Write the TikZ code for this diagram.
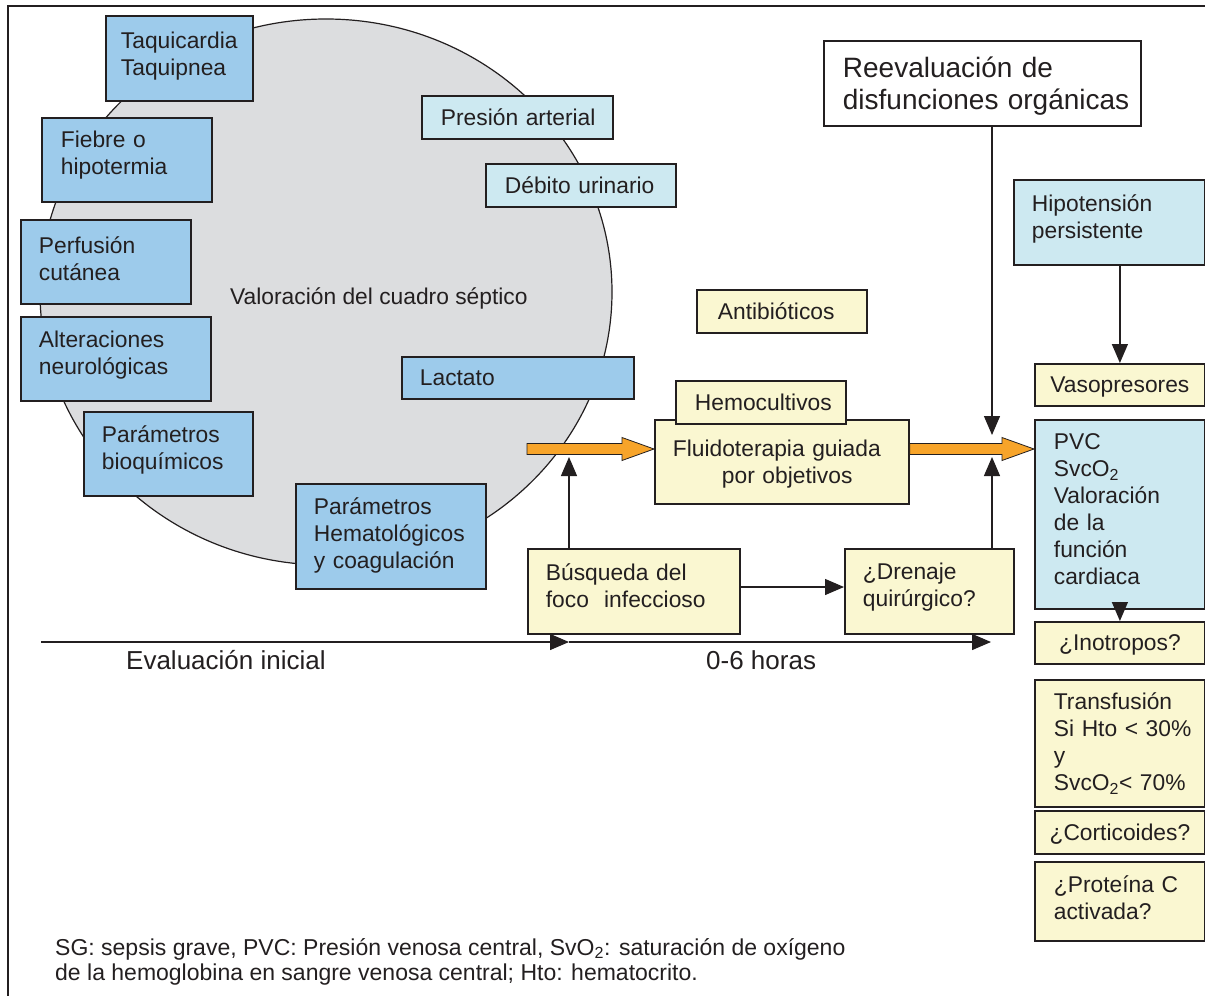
\documentclass[tikz,border=0pt]{standalone}
\usepackage{fontspec}
\setmainfont{Liberation Sans}
\usetikzlibrary{arrows.meta,calc}
\definecolor{bblue}{HTML}{9DCBEB}
\definecolor{lblue}{HTML}{CDE9F1}
\definecolor{yel}{HTML}{FAF7D1}
\definecolor{cgrey}{HTML}{DCDDDF}
\definecolor{orng}{HTML}{F7A42A}
\definecolor{ink}{HTML}{231F20}
\hyphenpenalty=10000
\exhyphenpenalty=10000
\hbadness=10000
\vbadness=10000
\hfuzz=200pt
\vfuzz=200pt
\newcommand{\mybumpdown}[1]{\endgraf\vspace{#1pt}}
\newcommand{\fatarrow}[2]{%
  \path[draw=ink, line width=0.8pt, fill=orng] let \p1=(#1), \p2=(#2) in
  (\x1,\y1+5.5pt) -- (\x2-32pt,\y1+5.5pt) -- (\x2-32pt,\y1+11.5pt) -- (\x2,\y1)
  -- (\x2-32pt,\y1-11.5pt) -- (\x2-32pt,\y1-5.5pt) -- (\x1,\y1-5.5pt) -- cycle;}
\begin{document}
\begin{tikzpicture}[x=1pt,y=-1pt,
  every node/.style={font=\fontsize{22.8}{27}\selectfont, text=ink, inner sep=0pt},
  bx/.style n args={4}{draw=ink, line width=1.8pt, anchor=north west, align=left,
     minimum width=#1pt, minimum height=#2pt, inner xsep=#3pt, inner ysep=0pt, text width=#4pt},
  ml/.style={execute at end node={\mybumpdown{#1}}},
  arr/.style={draw=ink, line width=1.3pt, -{Triangle[length=19pt,width=16pt]}},
  lbl/.style={font=\fontsize{26}{30}\selectfont, anchor=base west}
]
\useasboundingbox (0,0) rectangle (1205,996);
% frame
\draw[ink, line width=2pt] (8,996) -- (8,6) -- (1205,6);
% big ellipse
\draw[fill=cgrey, draw=ink, line width=1.2pt] (326,292) ellipse [x radius=286, y radius=273];
\node[anchor=base west] (val) at (230,304) {Valoración del cuadro séptico};
% blue boxes
\node[bx={147}{85}{15}{117}, ml=4, fill=bblue] (taq) at (105,15) {Taquicardia\\Taquipnea};
\node[bx={170}{84}{19}{132}, ml=10, fill=bblue] (fie) at (41,117) {Fiebre~o\\hipotermia};
\node[bx={170}{84}{18}{134}, ml=6, fill=bblue] (perf) at (20,219) {Perfusión\\cutánea};
\node[bx={190}{84}{18}{154}, ml=8, fill=bblue] (alt) at (20,316) {Alteraciones\\neurológicas};
\node[bx={169}{84}{18}{133}, ml=8, fill=bblue] (bioq) at (83,411) {Parámetros\\bioquímicos};
\node[bx={190}{105}{18}{154}, ml=2, fill=bblue] (hem) at (295,483) {Parámetros\\Hematológicos\\y~coagulación};
\node[bx={232}{42}{18}{196}, fill=bblue] (lac) at (401,356) {Lactato};
\node[bx={191}{43}{19}{153}, fill=lblue] (pres) at (421,95) {Presión~arterial};
\node[bx={190}{43}{19}{152}, fill=lblue] (deb) at (485,163) {Débito~urinario};
% yellow boxes
\node[bx={170}{43}{21}{128}, fill=yel] (anti) at (696,289) {Antibióticos};
\node[bx={254}{84}{18}{218}, ml=-4, fill=yel] (fluid) at (654,419) {Fluidoterapia~guiada\\\hspace*{49pt}por~objetivos};
\node[bx={170}{43}{19}{132}, fill=yel] (hemo) at (675,380) {Hemocultivos};
\node[bx={212}{85}{18}{176}, ml=12, fill=yel] (busq) at (527,548) {Búsqueda~del\\foco\ \ infeccioso};
\node[bx={169}{85}{18}{133}, ml=8, fill=yel] (dren) at (844,548) {¿Drenaje\\quirúrgico?};
% right column
\node[bx={317}{85}{19}{279}, ml=-5, fill=white, font=\fontsize{28}{32}\selectfont] (reev) at (823,40) {Reevaluación~de\\disfunciones~orgánicas};
\node[bx={191}{85}{18}{155}, ml=6, fill=lblue] (hip) at (1013,179) {Hipotensión\\persistente};
\node[bx={170}{42}{8}{154}, ml=-4, fill=yel, align=center] (vaso) at (1034,363) {Vasopresores};
\node[bx={170}{189}{19}{132}, ml=10, fill=lblue] (pvc) at (1034,419) {PVC\\SvcO\textsubscript{2}\\Valoración\\de~la\\función\\cardiaca};
\node[bx={170}{42}{8}{154}, ml=-6, fill=yel, align=center] (ino) at (1034,621) {¿Inotropos?};
\node[bx={170}{127}{19}{132}, fill=yel] (tra) at (1034,679) {Transfusión\\Si~Hto~<~30\%\\y\\SvcO\textsubscript{2}<~70\%};
\node[bx={170}{43}{8}{154}, ml=-4, fill=yel, align=center] (cort) at (1034,810) {¿Corticoides?};
\node[bx={170}{79}{19}{132}, ml=8, fill=yel] (prot) at (1034,861) {¿Proteína~C\\activada?};
% orange arrows
\coordinate (o1) at (527,449);
\fatarrow{o1}{fluid.west |- o1}
\fatarrow{fluid.east |- o1}{pvc.west |- o1}
% black arrows
\coordinate (t1) at (569,457);
\coordinate (t2) at (992,457);
\coordinate (t3) at (992,435);
\coordinate (ymid) at (0,587);
\draw[arr] (t1 |- busq.north) -- (t1);
\draw[arr] (t2 |- dren.north) -- (t2);
\draw[arr] (t3 |- reev.south) -- (t3);
\draw[arr] (busq.east |- ymid) -- (dren.west |- ymid);
\draw[arr] (vaso.north |- hip.south) -- (vaso.north);
\draw[arr] ($(pvc.south)+(0,-8)$) -- (ino.north);
% timeline
\coordinate (tl0) at (41,642);
\coordinate (tl1) at (569,642);
\coordinate (tl2) at (991,642);
\draw[arr] (tl0) -- (tl1);
\draw[arr] (tl1) -- (tl2);
\node[lbl] (ev) at (126,669) {Evaluación inicial};
\node[lbl] (hr) at (706,669) {0-6 horas};
% footnote
\node[anchor=north west, align=left, font=\fontsize{23}{25.5}\selectfont] (foot) at (55,938)
  {SG: sepsis grave, PVC: Presión venosa central, SvO\textsubscript{2}: saturación de oxígeno\\de la hemoglobina en sangre venosa central; Hto: hematocrito.};
\end{tikzpicture}
\end{document}
